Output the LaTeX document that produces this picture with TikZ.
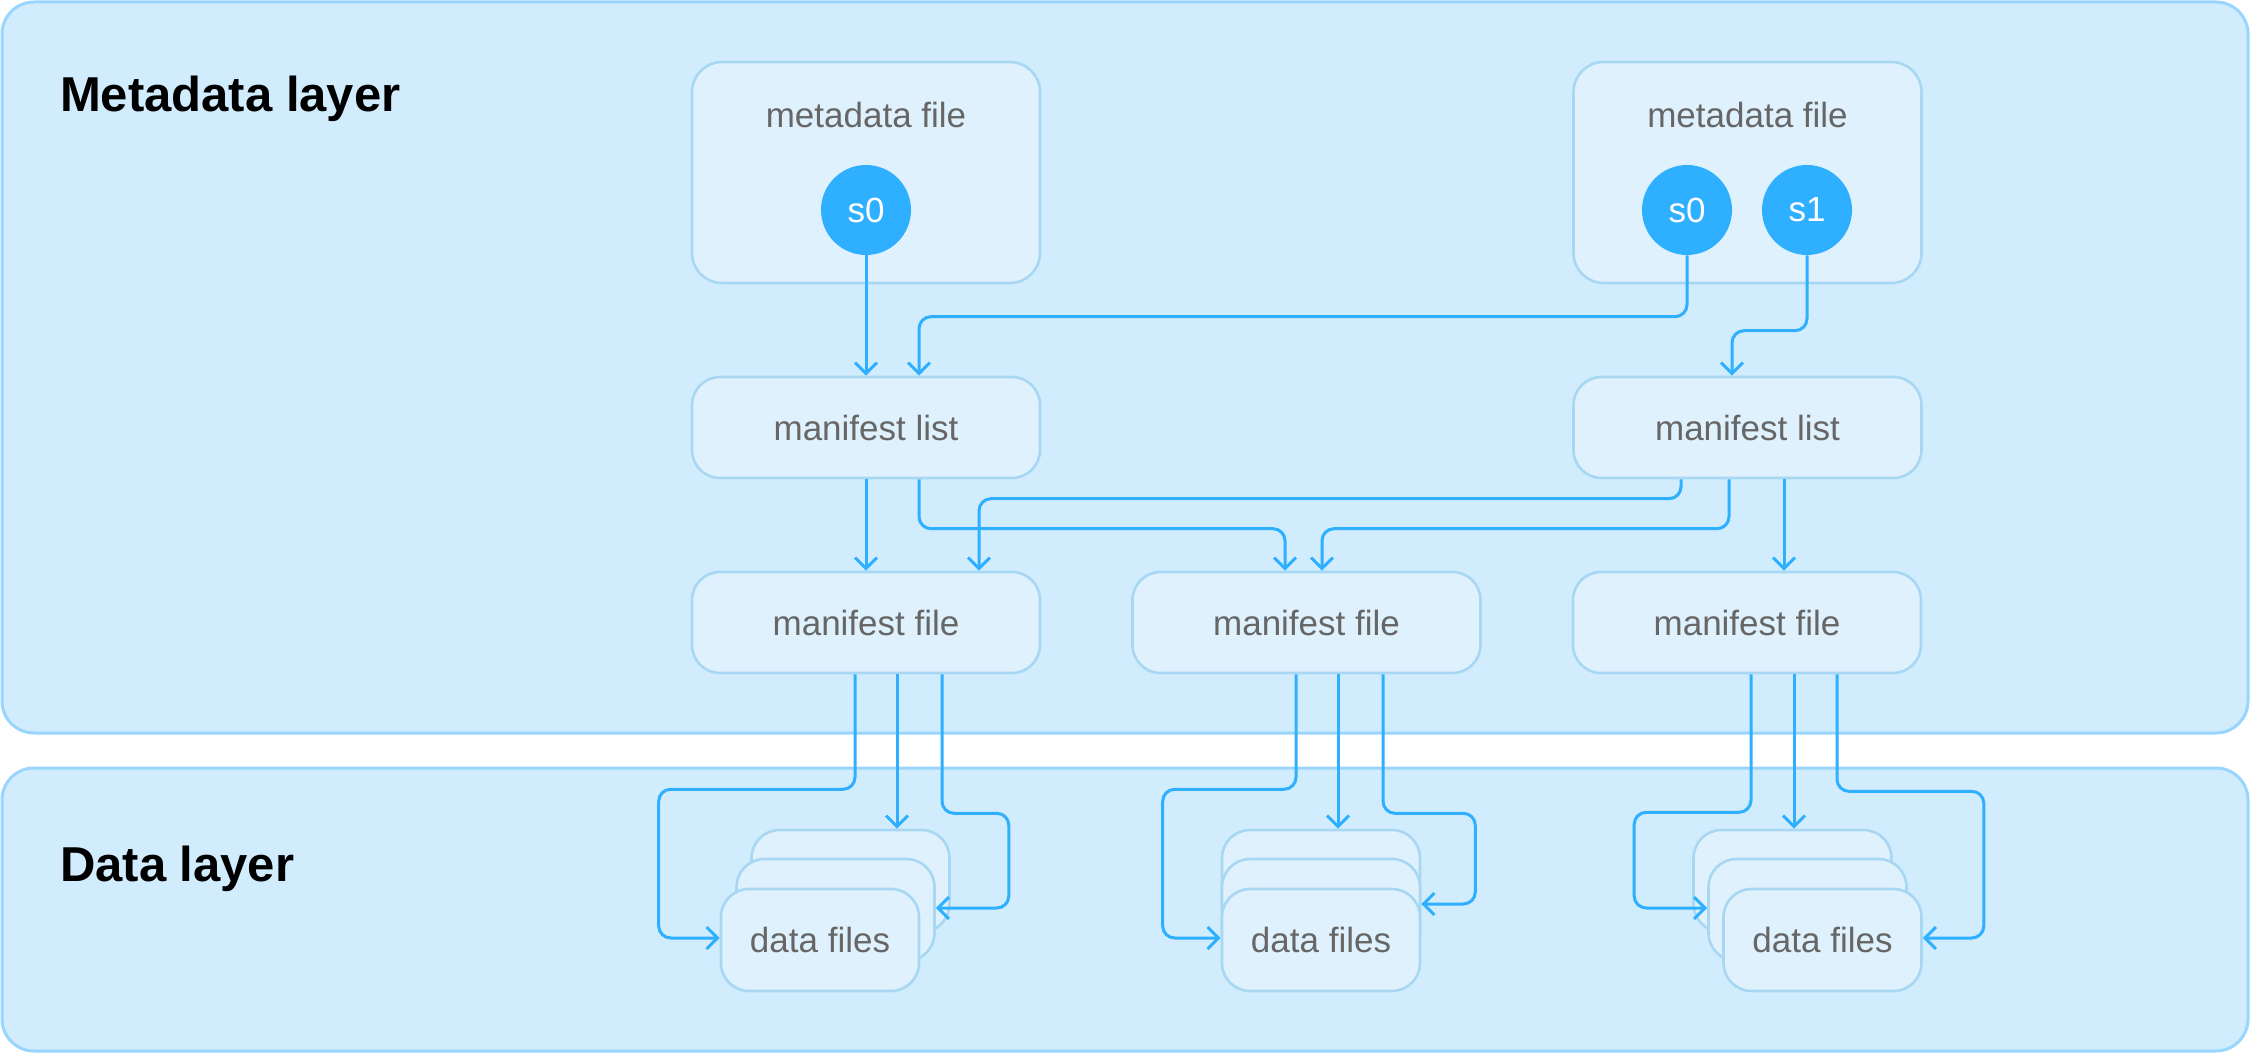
\documentclass[tikz,border=0pt]{standalone}
\usepackage{fontspec}
\setmainfont{Liberation Sans}
\usepackage{tikz}
\usetikzlibrary{
	positioning,
	arrows.meta,
	calc
}
\definecolor{layerfill}{HTML}{D1EDFD}
\definecolor{layerline}{HTML}{99D5FC}
\definecolor{boxfill}{HTML}{DFF1FD}
\definecolor{boxline}{HTML}{A8D7F3}
\definecolor{flowblue}{HTML}{2FAFFF}
\definecolor{labelgray}{HTML}{666666}
\tikzset{
	layer/.style={
		fill=layerfill, draw=layerline, line width=1.5pt, rounded corners=16pt
	},
	layer label/.style={
		anchor=base west, font=\fontsize{24.5}{28}\selectfont\bfseries
	},
	filetext/.style={
		text=labelgray, font=\fontsize{17.5}{20}\selectfont, inner sep=0pt
	},
	file/.style={
		filetext, fill=boxfill, draw=boxline, line width=1.3pt, rounded corners=14pt
	},
	metabox/.style={file, minimum width=174pt, minimum height=110.5pt, rounded corners=15pt},
	listbox/.style={file, minimum width=174pt, minimum height=50.5pt},
	databox/.style={file, minimum width=99pt, minimum height=51pt},
	snap/.style={
		circle, fill=flowblue, text=white, minimum size=45pt, inner sep=0pt,
		font=\fontsize{17.5}{20}\selectfont
	},
	flow/.style={
		draw=flowblue, line width=1.5pt, rounded corners=6pt,
		-{Straight Barb[length=5.5pt,width=11pt]}
	}
}

\begin{document}
\begin{tikzpicture}[x=.5pt,y=-.5pt]
		\useasboundingbox (0,0) rectangle (2250,1053);
		\draw[layer] (2,2) rectangle (2248,733);
		\draw[layer] (2,768) rectangle (2248,1051);

		\draw
			node[layer label] (ml)  at (53,112)        {Metadata layer}
			node[layer label] (dl)  at (53,881)        {Data layer}

			node[metabox]     (m1)  at (866,172.5)     {}
			node[metabox]     (m2)  at (1747.5,172.5)  {}
			node[filetext]    (t1)  at ($(m1.north)+(0,54)$) {metadata file}
			node[filetext]    (t2)  at ($(m2.north)+(0,54)$) {metadata file}
			node[snap]        (s0a) at (866,210)       {s0}
			node[snap]        (s0b) at (1687,210)      {s0}
			node[snap]        (s1b) at (1807,210)      {s1}

			node[listbox]     (l1)  at (866,427.5)     {manifest list}
			node[listbox]     (l2)  at (1747.5,427.5)  {manifest list}

			node[listbox]     (f1)  at (866,622.5)     {manifest file}
			node[listbox]     (f2)  at (1306.5,622.5)  {manifest file}
			node[listbox]     (f3)  at (1747,622.5)    {manifest file}

			node[databox]     (d1c) at (850.5,881)     {}
			node[databox]     (d1b) at (835.5,910)     {}
			node[databox]     (d1a) at (820,940)       {data files}
			node[databox]     (d2c) at (1321,881)      {}
			node[databox]     (d2b) at (1321,910)      {}
			node[databox]     (d2a) at (1321,940)      {data files}
			node[databox]     (d3c) at (1792.5,881)    {}
			node[databox]     (d3b) at (1807.5,910)    {}
			node[databox]     (d3a) at (1822.5,940)    {data files}
		;

		\draw[flow] (s0a) -- (l1);
		\draw[flow] (s0b.south) |- ($(l1.north)+(53,-59)$) -- ($(l1.north)+(53,0)$);
		\draw[flow] (s1b.south) |- ($(l2.north)+(-15.5,-45)$) -- ($(l2.north)+(-15.5,0)$);

		\draw[flow] (l1) -- (f1);
		\draw[flow] ($(l1.south)+(53,0)$) |- ($(f2.north)+(-21.5,-42)$) -- ($(f2.north)+(-21.5,0)$);
		\draw[flow] ($(l2.south)+(-66.5,0)$) |- ($(f1.north)+(113,-72)$) -- ($(f1.north)+(113,0)$);
		\draw[flow] ($(l2.south)+(-18.5,0)$) |- ($(f2.north)+(15.5,-42)$) -- ($(f2.north)+(15.5,0)$);
		\draw[flow] ($(l2.south)+(36.5,0)$) -- ($(f3.north)+(37,0)$);

		\draw[flow] ($(f1.south)+(-11,0)$) -- ++(0,115) -| ($(d1a.west)+(-61,-2)$) -- ($(d1a.west)+(0,-2)$);
		\draw[flow] ($(f1.south)+(31,0)$) -- ($(d1c.north)+(46.5,0)$);
		\draw[flow] ($(f1.south)+(76,0)$) -- ++(0,139) -| ($(d1b.east)+(73,-2)$) -- ($(d1b.east)+(0,-2)$);

		\draw[flow] ($(f2.south)+(-10.5,0)$) -- ++(0,115) -| ($(d2a.west)+(-58,-2)$) -- ($(d2a.west)+(0,-2)$);
		\draw[flow] ($(f2.south)+(31.5,0)$) -- ($(d2c.north)+(17,0)$);
		\draw[flow] ($(f2.south)+(76.5,0)$) -- ++(0,139) -| ($(d2b.east)+(54,-6)$) -- ($(d2b.east)+(0,-6)$);

		\draw[flow] ($(f3.south)+(4,0)$) -- ++(0,138) -| ($(d3b.west)+(-73,-2)$) -- ($(d3b.west)+(0,-2)$);
		\draw[flow] ($(f3.south)+(47,0)$) -- ($(d3c.north)+(1.5,0)$);
		\draw[flow] ($(f3.south)+(90,0)$) -- ++(0,117) -| ($(d3a.east)+(61,-2)$) -- ($(d3a.east)+(0,-2)$);
	\end{tikzpicture}
\end{document}
